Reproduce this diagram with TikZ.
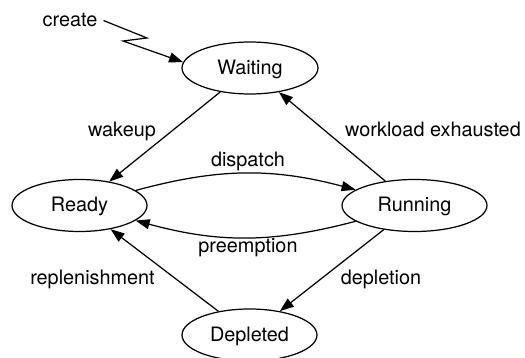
\documentclass[tikz,border=0pt]{standalone}
\usepackage{fontspec}
\setmainfont{TeX Gyre Heros}
\usetikzlibrary{arrows.meta,shapes.geometric}

\begin{document}
\begin{tikzpicture}[x=0.02cm, y=-0.02cm,
    every node/.style={font=\fontsize{11.3}{13.5}\selectfont},
    state/.style={draw, ellipse, line width=0.7pt, minimum height=1.04cm, inner sep=0pt, text height=0.72em, text depth=0pt},
    trans/.style={line width=0.7pt, -{Triangle[length=0.28cm, width=0.2cm]}},
    lbl/.style={anchor=base}]
  \useasboundingbox (0,0) rectangle (525,358);

  % States
  \node[state, minimum width=2.72cm] (waiting) at (250,68) {Waiting};
  \node[state, minimum width=2.7cm] (ready) at (79.5,205.5) {Ready};
  \node[state, minimum width=2.9cm] (running) at (414.5,205.5) {Running};
  \node[state, minimum width=2.7cm] (depleted) at (249.5,335) {Depleted};

  % Creation
  \node[lbl] (create) at (70,27) {create};
  \coordinate (zig) at (147,38);
  \coordinate (zag) at (123,41);
  \draw[trans] (create.east) -- (zig) -- (zag) -- (waiting.175);

  % Transitions
  \draw[trans] (waiting) -- (ready);
  \draw[trans] (running) -- (waiting);
  \draw[trans] (ready) to[bend left=15] (running);
  \draw[trans] (running) to[bend left=15] (ready);
  \draw[trans] (running) -- (depleted);
  \draw[trans] (depleted) -- (ready);

  % Labels
  \node[lbl] (wakeup) at (122,137) {wakeup};
  \node[lbl] (exhausted) at (433,137) {workload exhausted};
  \node[lbl] (dispatch) at (248,167) {dispatch};
  \node[lbl] (preempt) at (248,253) {preemption};
  \node[lbl] (replenish) at (92.5,285) {replenishment};
  \node[lbl] (deplete) at (381,285) {depletion};
\end{tikzpicture}
\end{document}
